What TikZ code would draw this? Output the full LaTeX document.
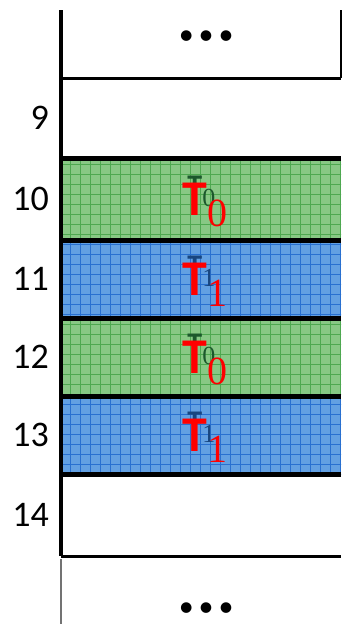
\documentclass[tikz,border=0pt]{standalone}
\usepackage{fontspec}
\setmainfont{Carlito}
\newfontfamily\serifT{Liberation Serif}
\usetikzlibrary{positioning,patterns.meta}

\definecolor{cellgreen}{RGB}{136,200,132}
\definecolor{gridgreen}{RGB}{78,168,80}
\definecolor{cellblue}{RGB}{98,160,226}
\definecolor{gridblue}{RGB}{40,112,208}
\definecolor{tgreen}{RGB}{28,88,44}
\definecolor{tblue}{RGB}{24,70,128}

\begin{document}
\begin{tikzpicture}[x=1pt,y=1pt]

\tikzset{
  slot/.style  = {inner sep=0pt, minimum width=280pt, anchor=north west},
  grn/.style   = {slot, fill=cellgreen,
                  postaction={pattern={Hatch[distance=10pt,line width=0.9pt]}, pattern color=gridgreen}},
  blu/.style   = {slot, fill=cellblue,
                  postaction={pattern={Hatch[distance=10pt,line width=0.9pt]}, pattern color=gridblue}},
  edge/.style  = {line width=3.5pt},
  heavy/.style = {line width=4.5pt},
  num/.style   = {font=\fontsize{36}{40}\selectfont, inner sep=0pt},
  dots/.style  = {font=\fontsize{30}{30}\selectfont, inner sep=0pt},
  tred/.style  = {text=red, inner sep=0pt, anchor=base west,
                  font=\bfseries\fontsize{50}{50}\selectfont},
  tdark/.style = {inner sep=0pt, anchor=base west,
                  font=\bfseries\fontsize{30}{30}\selectfont},
}
\useasboundingbox (0,0) rectangle (341,-624);

% slots, top to bottom
\node[slot, minimum height=68pt] (top) at (61,-10) {};
\node[slot, minimum height=80pt] (r9) at (61,-78) {};
\node[grn, minimum height=82pt] (r10) at (61,-158) {};
\node[blu, minimum height=78pt] (r11) at (61,-240) {};
\node[grn, minimum height=78pt] (r12) at (61,-318) {};
\node[blu, minimum height=78pt] (r13) at (61,-396) {};
\node[slot, minimum height=82pt] (r14) at (61,-474) {};
\node[slot, minimum height=68pt] (bot) at (61,-556) {};

% borders
\draw[edge] (top.north east) -- (top.south east);
\draw[edge] (top.south west) -- (top.south east);
\draw[heavy] (r9.south west) -- (r9.south east);
\foreach \r in {r10,r11,r12,r13}
  \draw[heavy] (\r.south west) -- (\r.south east);
\draw[edge] (r14.south west) -- (r14.south east);
\draw[line width=4pt] (top.north west) -- (r14.south west);
\draw[line width=2pt, draw=black!55] ([yshift=-3]bot.north west) -- (bot.south west);

% row numbers
\foreach \r/\n in {r9/9, r10/10, r11/11, r12/12, r13/13, r14/14}
  \node[num, left=12pt of \r] (n\n) {\n};

% tasks
\foreach \r/\k/\c in {r10/0/tgreen, r11/1/tblue, r12/0/tgreen, r13/1/tblue} {
  \node[tdark, text=\c] (d\r) at ([shift={(-14,4)}]\r.center)
    {T{\serifT\mdseries\fontsize{26}{26}\selectfont\raisebox{-11pt}{\k}}};
  \node[tred] (t\r) at ([shift={(-19,-16)}]\r.center)
    {T{\serifT\mdseries\fontsize{40}{40}\selectfont\raisebox{-11pt}{\k}}};
}

\node[dots] (dtop) at ([shift={(5,7)}]top.center) {\textbullet\,\textbullet\,\textbullet};
\node[dots] (dbot) at ([shift={(5,-19)}]bot.center) {\textbullet\,\textbullet\,\textbullet};
\end{tikzpicture}
\end{document}
